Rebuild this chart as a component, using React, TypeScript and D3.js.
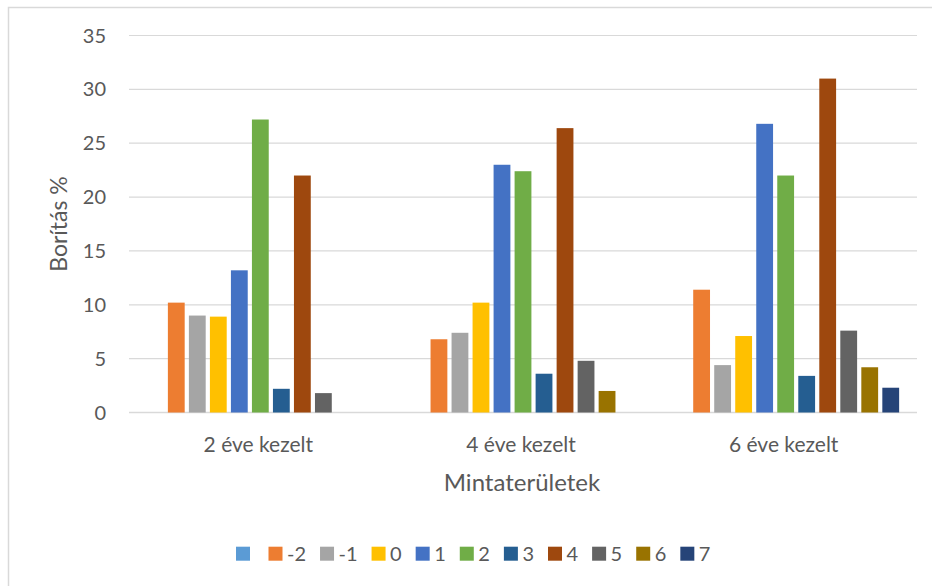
import { useEffect, useRef } from 'react';
import * as d3 from 'd3';

const categories = ['2 éve kezelt', '4 éve kezelt', '6 éve kezelt'];
const seriesNames = ['', '-2', '-1', '0', '1', '2', '3', '4', '5', '6', '7'];
const seriesColors = [
  '#5B9BD5', '#ED7D31', '#A5A5A5', '#FFC000', '#4472C4', '#70AD47',
  '#255E91', '#9E480E', '#636363', '#997300', '#264478',
];
// one array per category, in the order of seriesNames
const values2 = [0, 10.2, 9.0, 8.9, 13.2, 27.2, 2.2, 22.0, 1.8, 0, 0];
const values4 = [0, 6.8, 7.4, 10.2, 23.0, 22.4, 3.6, 26.4, 4.8, 2.0, 0];
const values6 = [0, 11.4, 4.4, 7.1, 26.8, 22.0, 3.4, 31.0, 7.6, 4.2, 2.3];
const yTicks = [0, 5, 10, 15, 20, 25, 30, 35];

const W = 932;
const H = 586;
const FONT = 'Lato, "Open Sans", sans-serif';
const TEXT = '#595959';
const GRID = '#D9D9D9';

export default function App() {
  const svgRef = useRef<SVGSVGElement>(null);

  useEffect(() => {
    document.body.style.margin = '0';
    if (!svgRef.current) return;
    const svg = d3.select(svgRef.current);
    svg.selectAll('*').remove();

    const left = 129;
    const right = 917;
    const top = 35.5;
    const bottom = 412.5;

    const rows = [values2, values4, values6];

    // chart frame (runs past the right/bottom edge in the original)
    svg.append('rect')
      .attr('x', 8.5)
      .attr('y', 7.5)
      .attr('width', W + 20)
      .attr('height', H + 20)
      .attr('fill', '#fff')
      .attr('stroke', GRID)
      .attr('stroke-width', 1.5);

    const x0 = d3.scaleBand<string>().domain(categories).range([left, right]);
    const x1 = d3.scaleBand<string>()
      .domain(seriesNames.map((_, i) => String(i)))
      .range([0, x0.bandwidth()])
      .paddingInner(0.2)
      .paddingOuter(0.85);
    const y = d3.scaleLinear().domain([0, 35]).range([bottom, top]);

    // Grid lines
    svg.append('g')
      .selectAll('line')
      .data(yTicks)
      .join('line')
      .attr('x1', left)
      .attr('x2', right)
      .attr('y1', (d) => y(d))
      .attr('y2', (d) => y(d))
      .attr('stroke', GRID)
      .attr('stroke-width', (d) => (d === 0 ? 1.5 : 1.2));

    // Y tick labels
    svg.append('g')
      .selectAll('text')
      .data(yTicks)
      .join('text')
      .attr('x', 106)
      .attr('y', (d) => y(d))
      .attr('dy', '0.35em')
      .attr('text-anchor', 'end')
      .attr('fill', TEXT)
      .attr('font-family', FONT)
      .attr('font-size', '20px')
      .text((d) => d);

    // Bars
    categories.forEach((cat, ci) => {
      const g = svg.append('g').attr('transform', `translate(${x0(cat)},0)`);
      g.selectAll('rect')
        .data(rows[ci].map((v, si) => ({ v, si })).filter((d) => d.v > 0))
        .join('rect')
        .attr('x', (d) => x1(String(d.si)) ?? 0)
        .attr('width', x1.bandwidth())
        .attr('y', (d) => y(d.v))
        .attr('height', (d) => y(0) - y(d.v))
        .attr('fill', (d) => seriesColors[d.si]);
    });

    // Category labels
    svg.append('g')
      .selectAll('text')
      .data(categories)
      .join('text')
      .attr('x', (d) => (x0(d) ?? 0) + x0.bandwidth() / 2 - 2)
      .attr('y', 451.5)
      .attr('text-anchor', 'middle')
      .attr('fill', TEXT)
      .attr('font-family', FONT)
      .attr('font-size', '21px')
      .text((d) => d);

    // Axis titles
    svg.append('text')
      .attr('x', 522)
      .attr('y', 491)
      .attr('text-anchor', 'middle')
      .attr('fill', TEXT)
      .attr('font-family', FONT)
      .attr('font-size', '24px')
      .text('Mintaterületek');

    svg.append('text')
      .attr('transform', 'translate(67,224) rotate(-90)')
      .attr('text-anchor', 'middle')
      .attr('fill', TEXT)
      .attr('font-family', FONT)
      .attr('font-size', '23px')
      .text('Borítás %');

    // Legend
    const legend = svg.append('g');
    let lx = 236;
    const ly = 553.7;
    seriesNames.forEach((name, i) => {
      legend.append('rect')
        .attr('x', lx)
        .attr('y', ly - 7)
        .attr('width', 14)
        .attr('height', 14)
        .attr('fill', seriesColors[i]);
      const t = legend.append('text')
        .attr('x', lx + 18.5)
        .attr('y', ly)
        .attr('dy', '0.35em')
        .attr('fill', TEXT)
        .attr('font-family', FONT)
        .attr('font-size', '20px')
        .text(name);
      const tw = name ? (t.node() as SVGTextElement).getComputedTextLength() : 0;
      lx += 14 + 4.5 + tw + 14;
    });
  }, []);

  return <svg ref={svgRef} width={W} height={H} style={{ display: 'block' }} />;
}
